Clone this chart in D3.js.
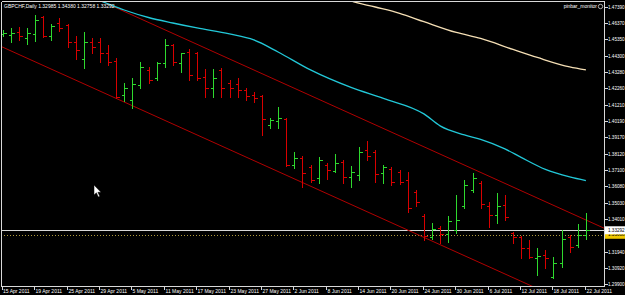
<!DOCTYPE html>
<html>
<head>
<meta charset="utf-8">
<script src="https://cdn.jsdelivr.net/npm/d3@7"></script>
<style>
  html, body { margin: 0; padding: 0; background: #000; }
  svg { display: block; }
  text { font-family: 'Liberation Sans', Arial, sans-serif; font-size: 5px; fill: #fff; }
  text.price { font-size: 4.6px; }
</style>
</head>
<body>
<svg id="chart" width="625" height="295"></svg>
<script>
const symbol_title = 'GBPCHF,Daily';
const indicator_name = 'pinbar_monitor';

// trading days on the chart, one daily bar each
const dates = [
  '2011-04-13', '2011-04-14', '2011-04-15', '2011-04-18', '2011-04-19', '2011-04-20', '2011-04-21', '2011-04-22',
  '2011-04-25', '2011-04-26', '2011-04-27', '2011-04-28', '2011-04-29',
  '2011-05-02', '2011-05-03', '2011-05-04', '2011-05-05', '2011-05-06', '2011-05-09', '2011-05-10', '2011-05-11',
  '2011-05-12', '2011-05-13', '2011-05-16', '2011-05-17', '2011-05-18', '2011-05-19', '2011-05-20', '2011-05-23',
  '2011-05-24', '2011-05-25', '2011-05-26', '2011-05-27', '2011-05-30', '2011-05-31',
  '2011-06-01', '2011-06-02', '2011-06-03', '2011-06-06', '2011-06-07', '2011-06-08', '2011-06-09', '2011-06-10',
  '2011-06-13', '2011-06-14', '2011-06-15', '2011-06-16', '2011-06-17', '2011-06-20', '2011-06-21', '2011-06-22',
  '2011-06-23', '2011-06-24', '2011-06-27', '2011-06-28', '2011-06-29', '2011-06-30',
  '2011-07-01', '2011-07-04', '2011-07-05', '2011-07-06', '2011-07-07', '2011-07-08', '2011-07-11', '2011-07-12',
  '2011-07-13', '2011-07-14', '2011-07-15', '2011-07-18', '2011-07-19', '2011-07-20', '2011-07-21', '2011-07-22'
];

const opens = [
  1.45686, 1.45623, 1.45813, 1.45434, 1.45686, 1.46759, 1.45560, 1.46380, 1.46254, 1.45182, 1.44109, 1.45182, 1.45182,
  1.44487, 1.43983, 1.41838, 1.41523, 1.42469, 1.43415, 1.42911, 1.43857, 1.44992, 1.43857, 1.44550, 1.44487,
  1.42974, 1.42280, 1.43415, 1.42596, 1.42532, 1.42153, 1.41838, 1.41775, 1.39947, 1.40199,
  1.40325, 1.37424, 1.37865, 1.37298, 1.36604, 1.37424, 1.37046, 1.37613, 1.36667, 1.36789, 1.38370, 1.38244,
  1.36919, 1.37172, 1.36982, 1.36478, 1.35721, 1.34209, 1.32885, 1.33452, 1.33074, 1.33326,
  1.34839, 1.35847, 1.36289, 1.34839, 1.34272, 1.34902, 1.33137, 1.32885, 1.32192, 1.31562, 1.31751, 1.30363,
  1.31246, 1.32885, 1.32381, 1.32985
];
const highs = [
  1.45939, 1.46065, 1.46128, 1.46065, 1.46885, 1.46822, 1.46317, 1.46696, 1.46317, 1.45560, 1.45813, 1.45434, 1.45434,
  1.44992, 1.44172, 1.42596, 1.42911, 1.43920, 1.43604, 1.43920, 1.45371, 1.45055, 1.44487, 1.44740, 1.44550,
  1.43478, 1.43478, 1.43541, 1.42784, 1.42911, 1.42280, 1.42027, 1.41838, 1.40388, 1.41081,
  1.40388, 1.38244, 1.37991, 1.37424, 1.37928, 1.37550, 1.38117, 1.37739, 1.37361, 1.38559, 1.38937, 1.38370,
  1.37424, 1.37298, 1.37109, 1.36982, 1.35847, 1.34335, 1.33768, 1.33578, 1.34209, 1.35532,
  1.36478, 1.36919, 1.36415, 1.35091, 1.35658, 1.35532, 1.33200, 1.32948, 1.32696, 1.32192, 1.32066, 1.31625,
  1.33326, 1.33011, 1.33705, 1.34380
];
const lows = [
  1.45560, 1.45182, 1.45308, 1.45055, 1.45245, 1.45497, 1.45308, 1.45876, 1.44866, 1.44109, 1.43541, 1.44487, 1.43920,
  1.43730, 1.41649, 1.41460, 1.41018, 1.42280, 1.42596, 1.42784, 1.43604, 1.43730, 1.43289, 1.42784, 1.42784,
  1.41712, 1.41712, 1.41712, 1.41712, 1.41712, 1.41523, 1.41397, 1.39316, 1.39758, 1.39758,
  1.37361, 1.37235, 1.36037, 1.36352, 1.36289, 1.36541, 1.36982, 1.36289, 1.36037, 1.36478, 1.37739, 1.36352,
  1.36289, 1.36163, 1.36221, 1.34461, 1.34839, 1.32696, 1.32759, 1.32507, 1.32570, 1.33137,
  1.34713, 1.35721, 1.34713, 1.33515, 1.33768, 1.33957, 1.32507, 1.31562, 1.31562, 1.30489, 1.30931, 1.30300,
  1.30994, 1.31940, 1.32255, 1.32758
];
const closes = [
  1.45749, 1.45749, 1.45560, 1.45749, 1.46570, 1.45560, 1.46191, 1.46065, 1.45182, 1.44677, 1.45182, 1.44866, 1.44487,
  1.43920, 1.41712, 1.42280, 1.42532, 1.43604, 1.42784, 1.43857, 1.44992, 1.43920, 1.44487, 1.43100, 1.42911,
  1.42280, 1.42911, 1.42280, 1.42280, 1.42153, 1.41775, 1.41649, 1.40325, 1.40262, 1.40388,
  1.37424, 1.37865, 1.36919, 1.36478, 1.37739, 1.37109, 1.37550, 1.36667, 1.36982, 1.38244, 1.37991, 1.36856,
  1.37298, 1.36352, 1.36352, 1.34713, 1.35091, 1.32948, 1.33389, 1.33074, 1.33894, 1.33957,
  1.36163, 1.36604, 1.34965, 1.34272, 1.34839, 1.34146, 1.32885, 1.32192, 1.31625, 1.31688, 1.31562, 1.31246,
  1.32759, 1.32255, 1.33011, 1.33292
];

// moving averages at some of the bars
const ma_fast = [
  ['2011-04-27', 1.48147], ['2011-04-29', 1.47788], ['2011-05-04', 1.47201], ['2011-05-09', 1.46727],
  ['2011-05-12', 1.46380], ['2011-05-17', 1.46065], ['2011-05-23', 1.45686], ['2011-05-26', 1.45308],
  ['2011-05-31', 1.44550], ['2011-06-06', 1.43415], ['2011-06-13', 1.42311], ['2011-06-17', 1.41617],
  ['2011-06-24', 1.40640], ['2011-06-28', 1.39884], ['2011-07-01', 1.39316], ['2011-07-05', 1.39032],
  ['2011-07-08', 1.38433], ['2011-07-12', 1.37896], ['2011-07-15', 1.37140], ['2011-07-20', 1.36667],
  ['2011-07-22', 1.36434]
];
const ma_slow = [
  ['2011-06-10', 1.47958], ['2011-06-13', 1.47769], ['2011-06-16', 1.47390], ['2011-06-21', 1.46992],
  ['2011-06-24', 1.46462], ['2011-06-30', 1.45781], ['2011-07-05', 1.45402], ['2011-07-11', 1.44708],
  ['2011-07-14', 1.44203], ['2011-07-20', 1.43604], ['2011-07-22', 1.43415]
];

// channel trend lines, two anchor points each (date, price)
const channel_upper = [['2011-05-02', 1.47573], ['2011-07-22', 1.33943]];
const channel_lower = [['2011-04-13', 1.44853], ['2011-07-13', 1.29842]];

const price_ticks = [
  1.47390, 1.46370, 1.45350, 1.44300, 1.43280, 1.42260, 1.41210, 1.40190, 1.39170,
  1.38120, 1.37100, 1.36080, 1.35030, 1.34010, 1.32990, 1.31940, 1.30920, 1.29900
];
const date_ticks = [
  '2011-04-15', '2011-04-19', '2011-04-25', '2011-04-29', '2011-05-05', '2011-05-11', '2011-05-17',
  '2011-05-23', '2011-05-27', '2011-06-02', '2011-06-08', '2011-06-14', '2011-06-20', '2011-06-24',
  '2011-06-30', '2011-07-06', '2011-07-12', '2011-07-18', '2011-07-22'
];
const bid_price = 1.33292;
const alert_price = 1.33008;

const svg = d3.select('#chart');
const plot_left = 1, plot_right = 604, plot_top = 1, plot_bottom = 286;

const x_idx = d3.scaleLinear().domain([0, dates.length - 1]).range([2.7, 585.9]);
const x = function(d) { return x_idx(dates.indexOf(d)); };
const y = d3.scaleLinear().domain([1.29900, 1.47390]).range([284, 7]);
const px = function(v) { return Math.round(v) + 0.5; };

svg.append('rect').attr('width', 625).attr('height', 295).attr('fill', '#000');

svg.append('defs').append('clipPath').attr('id', 'plot-clip')
  .append('rect').attr('x', plot_left).attr('y', plot_top)
  .attr('width', plot_right - plot_left).attr('height', plot_bottom - plot_top);

const plot = svg.append('g').attr('clip-path', 'url(#plot-clip)');

// horizontal price lines
plot.append('line')
  .attr('x1', plot_left).attr('x2', plot_right)
  .attr('y1', px(y(alert_price))).attr('y2', px(y(alert_price)))
  .attr('stroke', '#b09a3c').attr('stroke-width', 1).attr('stroke-dasharray', '1,2');
plot.append('line')
  .attr('x1', plot_left).attr('x2', plot_right)
  .attr('y1', px(y(bid_price))).attr('y2', px(y(bid_price)))
  .attr('stroke', '#d8d8d8').attr('stroke-width', 1);

// channel lines, extended across the whole window
const draw_channel = function(anchors) {
  let i1 = dates.indexOf(anchors[0][0]);
  let i2 = dates.indexOf(anchors[1][0]);
  let slope = (anchors[1][1] - anchors[0][1]) / (i2 - i1);
  let a = -5, b = dates.length + 5;
  plot.append('line')
    .attr('x1', x_idx(a)).attr('y1', y(anchors[0][1] + (a - i1) * slope))
    .attr('x2', x_idx(b)).attr('y2', y(anchors[0][1] + (b - i1) * slope))
    .attr('stroke', '#b00000').attr('stroke-width', 1);
};
draw_channel(channel_upper);
draw_channel(channel_lower);

// moving averages
const ma_line = d3.line()
  .x(function(d) { return x(d[0]); })
  .y(function(d) { return y(d[1]); })
  .curve(d3.curveMonotoneX);
plot.append('path').attr('d', ma_line(ma_slow))
  .attr('fill', 'none').attr('stroke', '#f5dfb5').attr('stroke-width', 1.3);
plot.append('path').attr('d', ma_line(ma_fast))
  .attr('fill', 'none').attr('stroke', '#22c8d8').attr('stroke-width', 1.3);

// OHLC bars
const bars = plot.append('g').attr('shape-rendering', 'crispEdges');
dates.forEach(function(d, i) {
  let xx = px(x_idx(i));
  let color = closes[i] >= opens[i] ? '#2ed82e' : '#d80000';
  let g = bars.append('g').attr('stroke', color).attr('stroke-width', 1);
  g.append('line').attr('x1', xx).attr('x2', xx).attr('y1', Math.round(y(highs[i]))).attr('y2', Math.round(y(lows[i])) + 1);
  g.append('line').attr('x1', xx - 3).attr('x2', xx).attr('y1', px(y(opens[i]))).attr('y2', px(y(opens[i])));
  g.append('line').attr('x1', xx).attr('x2', xx + 3).attr('y1', px(y(closes[i]))).attr('y2', px(y(closes[i])));
});

// frame
const frame = svg.append('g').attr('stroke', '#d8d8d8').attr('stroke-width', 1).attr('shape-rendering', 'crispEdges');
frame.append('line').attr('x1', plot_left + 0.5).attr('x2', plot_right + 0.5).attr('y1', plot_top + 0.5).attr('y2', plot_top + 0.5);
frame.append('line').attr('x1', plot_left + 0.5).attr('x2', plot_left + 0.5).attr('y1', plot_top + 0.5).attr('y2', plot_bottom + 0.5);
frame.append('line').attr('x1', plot_left + 0.5).attr('x2', plot_right + 0.5).attr('y1', plot_bottom + 0.5).attr('y2', plot_bottom + 0.5);
frame.append('line').attr('x1', plot_right + 0.5).attr('x2', plot_right + 0.5).attr('y1', plot_top + 0.5).attr('y2', plot_bottom + 0.5);

// price axis
const y_axis = svg.append('g');
price_ticks.forEach(function(p) {
  let yy = px(y(p));
  y_axis.append('line').attr('x1', plot_right + 1).attr('x2', plot_right + 4).attr('y1', yy).attr('y2', yy)
    .attr('stroke', '#d8d8d8').attr('shape-rendering', 'crispEdges');
  y_axis.append('text').attr('class', 'price').attr('x', 608).attr('y', yy).attr('dy', '0.35em').text(p.toFixed(5));
});

const price_box = function(p, bg) {
  let yy = y(p);
  y_axis.append('rect').attr('x', plot_right + 1).attr('y', yy - 4).attr('width', 625 - plot_right).attr('height', 8).attr('fill', bg);
  y_axis.append('text').attr('class', 'price').attr('x', 608).attr('y', yy).attr('dy', '0.35em')
    .style('fill', '#000').text(p.toFixed(5));
};
price_box(alert_price, '#f0c800');
price_box(bid_price, '#ffffff');

// time axis
const parse = d3.timeParse('%Y-%m-%d');
const fmt = d3.timeFormat('%-d %b %Y');
const x_axis = svg.append('g');
date_ticks.forEach(function(d, k) {
  // the first label sits at the left edge of the window
  let xx = k === 0 ? plot_left + 1 : Math.round(x(d)) - 0.5;
  x_axis.append('line').attr('x1', xx).attr('x2', xx).attr('y1', plot_bottom + 1).attr('y2', plot_bottom + 4)
    .attr('stroke', '#d8d8d8').attr('shape-rendering', 'crispEdges');
  x_axis.append('text').attr('x', xx + 1).attr('y', 293).text(fmt(parse(d)));
});

// header texts
svg.append('text').attr('x', 4).attr('y', 8)
  .text(symbol_title + '  ' + [opens, highs, lows, closes].map(function(s) { return s[s.length - 1].toFixed(5); }).join(' '));
svg.append('text').attr('x', 597).attr('y', 8).attr('text-anchor', 'end').text(indicator_name);
svg.append('circle').attr('cx', 600.5).attr('cy', 6.5).attr('r', 2.2)
  .attr('fill', 'none').attr('stroke', '#d8d8d8').attr('stroke-width', 0.8);

// mouse pointer left on the screenshot
svg.append('path')
  .attr('d', 'M94,185 L94,195 L96.4,192.8 L98.3,197 L99.8,196.3 L97.9,192.3 L101,192.3 Z')
  .attr('fill', '#fff').attr('stroke', '#000').attr('stroke-width', 0.5);
</script>
</body>
</html>
